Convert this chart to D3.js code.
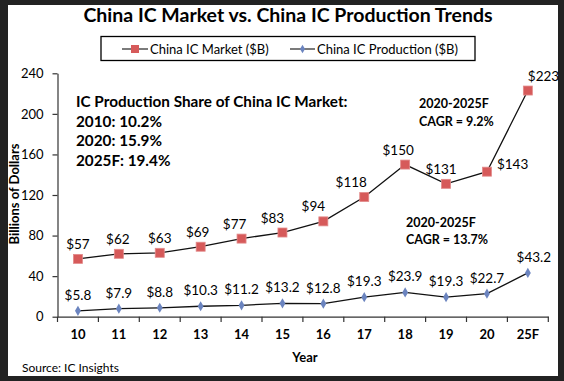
<!DOCTYPE html>
<html><head><meta charset="utf-8">
<script src="https://cdn.jsdelivr.net/npm/d3@7"></script>
<style>
html,body{margin:0;padding:0;background:#222222;}
svg{display:block;}
text{font-family:Lato,"Open Sans",sans-serif;fill:#000;}
</style></head>
<body>
<svg id="chart" width="564" height="381"></svg>
<script>
const categories = ["10","11","12","13","14","15","16","17","18","19","20","25F"];
const marketValues = [57,62,63,69,77,83,94,118,150,131,143,223];
const productionValues = [5.8,7.9,8.8,10.3,11.2,13.2,12.8,19.3,23.9,19.3,22.7,43.2];
const marketLabels = ["$57","$62","$63","$69","$77","$83","$94","$118","$150","$131","$143","$223"];
const productionLabels = ["$5.8","$7.9","$8.8","$10.3","$11.2","$13.2","$12.8","$19.3","$23.9","$19.3","$22.7","$43.2"];
const yTicks = [0,40,80,120,160,200,240];
const seriesNames = ["China IC Market ($B)","China IC Production ($B)"];
const shareLines = ["IC Production Share of China IC Market:","2010: 10.2%","2020: 15.9%","2025F: 19.4%"];
const cagrMarket = ["2020-2025F","CAGR = 9.2%"];
const cagrProduction = ["2020-2025F","CAGR = 13.7%"];
// label layout offsets (x shift, px) for market labels
const marketLabelDx = [0,-1,0,-3,-7,-10,-10,-13,-7,-5,null,null];

const svg = d3.select("#chart");
svg.append("rect").attr("x",8).attr("y",5).attr("width",550).attr("height",371).attr("fill","#fff");

const x = d3.scaleBand().domain(categories).range([57.5,548.3]).paddingInner(0).paddingOuter(0);
const y = d3.scaleLinear().domain([0,240]).range([316.7,73.3]);
const cx = c => x(c) + x.bandwidth()/2;

// title
svg.append("text").attr("x",288).attr("y",22).attr("text-anchor","middle")
  .style("font-size","19.5px").style("font-weight","bold").text("China IC Market vs. China IC Production Trends");

// legend
svg.append("rect").attr("x",101).attr("y",36.5).attr("width",374).attr("height",24)
  .attr("fill","none").attr("stroke","#000").attr("stroke-width",1.3);
const leg = [{x0:122,x1:148,tx:150,kind:"sq"},{x0:290,x1:315,tx:317,kind:"dia"}];
leg.forEach((l,i)=>{
  svg.append("line").attr("x1",l.x0).attr("x2",l.x1).attr("y1",49).attr("y2",49).attr("stroke","#333").attr("stroke-width",1.3);
  const mx=(l.x0+l.x1)/2;
  if(l.kind==="sq") svg.append("rect").attr("x",mx-4).attr("y",45).attr("width",8).attr("height",8).attr("fill","#d65a5a");
  else svg.append("path").attr("d",d3.symbol(d3.symbolDiamond,22)()).attr("transform",`translate(${mx},49)`).attr("fill","#6b84bf");
  svg.append("text").attr("x",l.tx).attr("y",54).style("font-size","13px").text(seriesNames[i]);
});

// y axis
const yAxis = svg.append("g").attr("transform","translate(57.5,0)")
  .call(d3.axisLeft(y).tickValues(yTicks).tickSize(5).tickSizeOuter(0).tickPadding(9));
yAxis.selectAll("text").style("font-size","13px").style("font-family","Lato,sans-serif");
yAxis.selectAll("line,path").attr("stroke","#333").attr("stroke-width",1.2);

// x axis
const xAxis = svg.append("g").attr("transform","translate(0,316.7)")
  .call(d3.axisBottom(x).tickSize(0).tickSizeOuter(0).tickPadding(13));
xAxis.selectAll("text").style("font-size","13px").style("font-weight","bold").style("font-family","Lato,sans-serif");
xAxis.select("path").attr("stroke","#333").attr("stroke-width",1.2);
const bounds = categories.map(c=>x(c)).concat([x(categories[categories.length-1])+x.bandwidth()]);
svg.append("g").selectAll("line").data(bounds).join("line")
  .attr("x1",d=>d).attr("x2",d=>d).attr("y1",316.7).attr("y2",322).attr("stroke","#333").attr("stroke-width",1.2);

// axis titles
svg.append("text").attr("transform","translate(19,194) rotate(-90)").attr("text-anchor","middle")
  .style("font-size","13px").style("font-weight","bold").text("Billions of Dollars");
svg.append("text").attr("x",305).attr("y",362).attr("text-anchor","middle")
  .style("font-size","13px").style("font-weight","bold").text("Year");
svg.append("text").attr("x",22).attr("y",372).style("font-size","12px").text("Source: IC Insights");

// lines
const line = d3.line().x((d,i)=>cx(categories[i])).y(d=>y(d));
svg.append("path").datum(marketValues).attr("d",line).attr("fill","none").attr("stroke","#111").attr("stroke-width",1.3);
svg.append("path").datum(productionValues).attr("d",line).attr("fill","none").attr("stroke","#111").attr("stroke-width",1.3);

// markers
svg.append("g").selectAll("rect").data(marketValues).join("rect")
  .attr("x",(d,i)=>cx(categories[i])-4.5).attr("y",d=>y(d)-4.5).attr("width",9).attr("height",9)
  .attr("fill","#d65a5a").attr("stroke","#e28a8a").attr("stroke-width",0.8);
svg.append("g").selectAll("path").data(productionValues).join("path")
  .attr("d",d3.symbol(d3.symbolDiamond,30)())
  .attr("transform",(d,i)=>`translate(${cx(categories[i])},${y(d)})`).attr("fill","#6b84bf");

// data labels
svg.append("g").selectAll("text").data(marketValues).join("text")
  .attr("x",(d,i)=>{
    const px=cx(categories[i]);
    if(i===10) return px+10;
    if(i===11) return px;
    return px+marketLabelDx[i];
  })
  .attr("y",(d,i)=>{
    const py=y(d);
    if(i===10) return py-3;
    return py-10;
  })
  .attr("text-anchor",(d,i)=>i>=10?"start":"middle")
  .style("font-size","13.5px").text((d,i)=>marketLabels[i]);
svg.append("g").selectAll("text").data(productionValues).join("text")
  .attr("x",(d,i)=>cx(categories[i])+(i===11?6:0))
  .attr("y",d=>y(d)-11)
  .attr("text-anchor","middle")
  .style("font-size","13.5px").text((d,i)=>productionLabels[i]);

// annotations
svg.append("g").selectAll("text").data(shareLines).join("text")
  .attr("x",76).attr("y",(d,i)=>107+i*19.7)
  .style("font-size","15.3px").style("font-weight","bold").text(d=>d);
svg.append("g").selectAll("text").data(cagrMarket).join("text")
  .attr("x",419).attr("y",(d,i)=>108+i*18)
  .style("font-size","12.5px").style("font-weight","bold").text(d=>d);
svg.append("g").selectAll("text").data(cagrProduction).join("text")
  .attr("x",406).attr("y",(d,i)=>227+i*17)
  .style("font-size","12.5px").style("font-weight","bold").text(d=>d);
</script>
</body></html>
